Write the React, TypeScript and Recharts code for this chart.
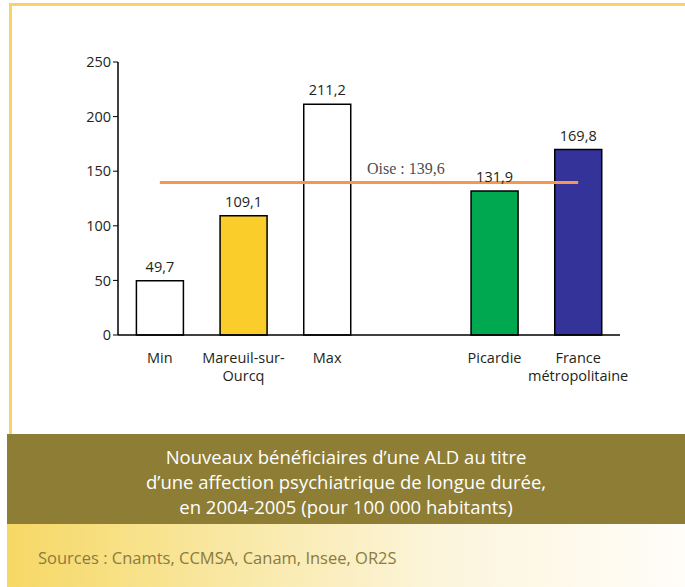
import { Bar, Cell, LabelList, Line, XAxis, YAxis, ComposedChart } from 'recharts'

const categories = ['Min', 'Mareuil-sur-\nOurcq', 'Max', '', 'Picardie', 'France\nmétropolitaine']
const values: (number | null)[] = [49.7, 109.1, 211.2, null, 131.9, 169.8]
const barColors = ['#ffffff', '#fbcd2b', '#ffffff', '#ffffff', '#00a94f', '#333399']
const oiseValue = 139.6
const oiseLabel = 'Oise : 139,6'
const yTicks = [0, 50, 100, 150, 200, 250]

const titleLines = [
  'Nouveaux bénéficiaires d’une ALD au titre',
  'd’une affection psychiatrique de longue durée,',
  'en 2004-2005 (pour 100 000 habitants)',
]
const source = 'Sources : Cnamts, CCMSA, Canam, Insee, OR2S'

const FONT = '"Open Sans", "Noto Sans", sans-serif'

const data = categories.map((name, i) => ({
  name,
  value: values[i],
  oise: oiseValue,
}))

const fmt = (v: unknown) => (typeof v === 'number' ? v.toFixed(1).replace('.', ',') : '')

function CategoryTick({ x, y, payload }: any) {
  const lines = String(payload.value).split('\n')
  return (
    <text x={x} y={y} textAnchor="middle" fill="#231f20" fontSize={14.5} fontFamily={FONT}>
      {lines.map((line, i) => (
        <tspan key={i} x={x} dy={i === 0 ? 20 : 18}>
          {line}
        </tspan>
      ))}
    </text>
  )
}

function OiseLabel({ x, y, index }: any) {
  if (index !== 3) return null
  return (
    <text
      x={x - 5}
      y={y - 9}
      textAnchor="middle"
      fill="#4d4d4d"
      fontSize={16}
      fontFamily='"Liberation Serif", "DejaVu Serif", serif'
    >
      {oiseLabel}
    </text>
  )
}

export default function App() {
  return (
    <div style={{ position: 'fixed', left: 0, top: 0, width: 685, height: 587, background: '#fff', overflow: 'hidden' }}>
      <div style={{ position: 'absolute', left: 9, top: 3, right: 0, height: 3, background: '#f7d55e' }} />
      <div style={{ position: 'absolute', left: 9, top: 3, width: 3, height: 431, background: '#f7d55e' }} />

      <div style={{ position: 'absolute', left: 0, top: 0 }}>
        <ComposedChart
          width={685}
          height={430}
          data={data}
          margin={{ top: 62, right: 65, bottom: 45, left: 0 }}
          barCategoryGap="22%"
        >
          <XAxis
            dataKey="name"
            axisLine={{ stroke: '#000', strokeWidth: 1.5 }}
            tickLine={false}
            tick={<CategoryTick />}
            interval={0}
            height={50}
          />
          <YAxis
            domain={[0, 250]}
            ticks={yTicks}
            width={118}
            axisLine={{ stroke: '#000', strokeWidth: 1.5 }}
            tickLine={{ stroke: '#000' }}
            tickSize={5}
            tick={{ fill: '#231f20', fontSize: 14.5, fontFamily: FONT }}
          />
          <Bar dataKey="value" stroke="#000" strokeWidth={1.5} isAnimationActive={false}>
            {data.map((d, i) => (
              <Cell key={i} fill={barColors[i]} />
            ))}
            <LabelList
              dataKey="value"
              position="top"
              offset={9}
              formatter={fmt}
              style={{ fill: '#231f20', fontSize: 14.5, fontFamily: FONT }}
            />
          </Bar>
          <Line
            dataKey="oise"
            type="linear"
            stroke="#f7964f"
            strokeWidth={3}
            dot={false}
            activeDot={false}
            isAnimationActive={false}
          >
            <LabelList dataKey="oise" content={<OiseLabel />} />
          </Line>
        </ComposedChart>
      </div>

      <div
        style={{
          position: 'absolute',
          left: 7,
          top: 434,
          right: 0,
          height: 90,
          background: '#8e7d35',
          color: '#fff',
          fontFamily: FONT,
          fontSize: 18.5,
          lineHeight: '25px',
          textAlign: 'center',
          paddingTop: 10,
          boxSizing: 'border-box',
        }}
      >
        {titleLines.map((l) => (
          <div key={l}>{l}</div>
        ))}
      </div>
      <div
        style={{
          position: 'absolute',
          left: 7,
          top: 524,
          right: 0,
          bottom: 0,
          background: 'linear-gradient(to right, #f6d865 0%, #f9e9a8 35%, #fcf5dd 65%, #fffdf8 100%)',
        }}
      >
        <div
          style={{
            position: 'absolute',
            left: 31,
            top: 22,
            fontFamily: FONT,
            fontSize: 16.5,
            color: '#8a7b3e',
          }}
        >
          {source}
        </div>
      </div>
    </div>
  )
}
